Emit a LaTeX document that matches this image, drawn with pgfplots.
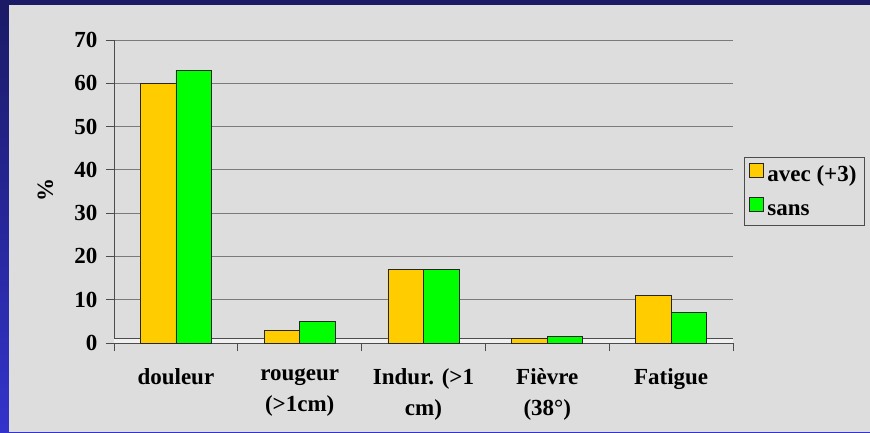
\documentclass[border=0pt]{standalone}
\usepackage{fontspec}
\setmainfont{Liberation Serif}
\usepackage{pgfplots}
\pgfplotsset{compat=1.18}

\definecolor{panel}{HTML}{DDDDDD}
\definecolor{floor}{HTML}{F0F0F0}
\definecolor{gridc}{HTML}{7A7A7A}
\definecolor{avec}{HTML}{FFCC00}
\definecolor{sans}{HTML}{00FF00}
\definecolor{navytop}{HTML}{1A1A66}
\definecolor{navybot}{HTML}{3333CC}

\pgfplotstableread{
x avec sans
0 60  63
1 3   5
2 17  17
3 1   1.6
4 11  7
}\effets

\begin{document}
\begin{tikzpicture}
\useasboundingbox (0,0) rectangle (870pt,432pt);
\shade[top color=navytop, bottom color=navybot] (0,0) rectangle (870pt,432pt);
\fill[panel] (9pt,0) rectangle (870pt,427pt);

\begin{axis}[
    at={(114pt,89pt)}, anchor=south west,
    scale only axis, width=619pt, height=303pt,
    ymin=0, ymax=70, ytick={0,10,...,70},
    xmin=-0.5, xmax=4.5,
    xtick={-0.5,0.5,...,4.5}, xticklabels={},
    extra x ticks={0,1,2,3,4},
    extra x tick labels={douleur,{rougeur\\(>1cm)},{Indur. (>1\\cm)},{Fièvre\\(38°)},Fatigue},
    extra x tick style={xtick style={draw=none}},
    axis x line*=bottom, axis y line*=left,
    axis line style={draw=black!70, line width=0.8pt},
    tick align=outside, major tick length=8pt,
    tick style={draw=black!70, line width=0.8pt},
    ymajorgrids, major grid style={draw=gridc, line width=1pt},
    /pgf/number format/assume math mode=true,
    tick label style={font=\bfseries\fontsize{23}{31}\selectfont},
    xticklabel style={align=center, yshift=-14pt},
    yticklabel style={xshift=-5pt},
    ylabel={\%},
    ylabel style={font=\bfseries\fontsize{23}{27}\selectfont, at={(axis description cs:-0.111,0.505)}, anchor=center},
    ybar=0pt, bar width=0.287,
    legend style={at={(1.018,0.614)}, anchor=north west, fill=panel, draw=black!70, line width=0.8pt,
        font=\bfseries\fontsize{23}{27}\selectfont, /tikz/row sep=12pt, inner xsep=4pt, inner ysep=6pt,
        nodes={inner xsep=4pt, inner ysep=0pt, text height=15pt, text depth=4pt}},
    legend cell align=left,
    legend image code/.code={\draw[#1, line width=0.8pt] (0pt,-2pt) rectangle (14pt,12pt);},
]
\fill[floor] (axis cs:-0.5,0) rectangle (axis cs:4.5,1.15);
\draw[black!70, line width=0.8pt] (axis cs:-0.5,1.15) -- (axis cs:4.5,1.15);
\addplot[fill=avec, draw=black!85, line width=0.8pt] table[x=x, y=avec] {\effets};
\addplot[fill=sans, draw=black!85, line width=0.8pt] table[x=x, y=sans] {\effets};
\legend{avec (+3), sans}
\end{axis}
\end{tikzpicture}
\end{document}
